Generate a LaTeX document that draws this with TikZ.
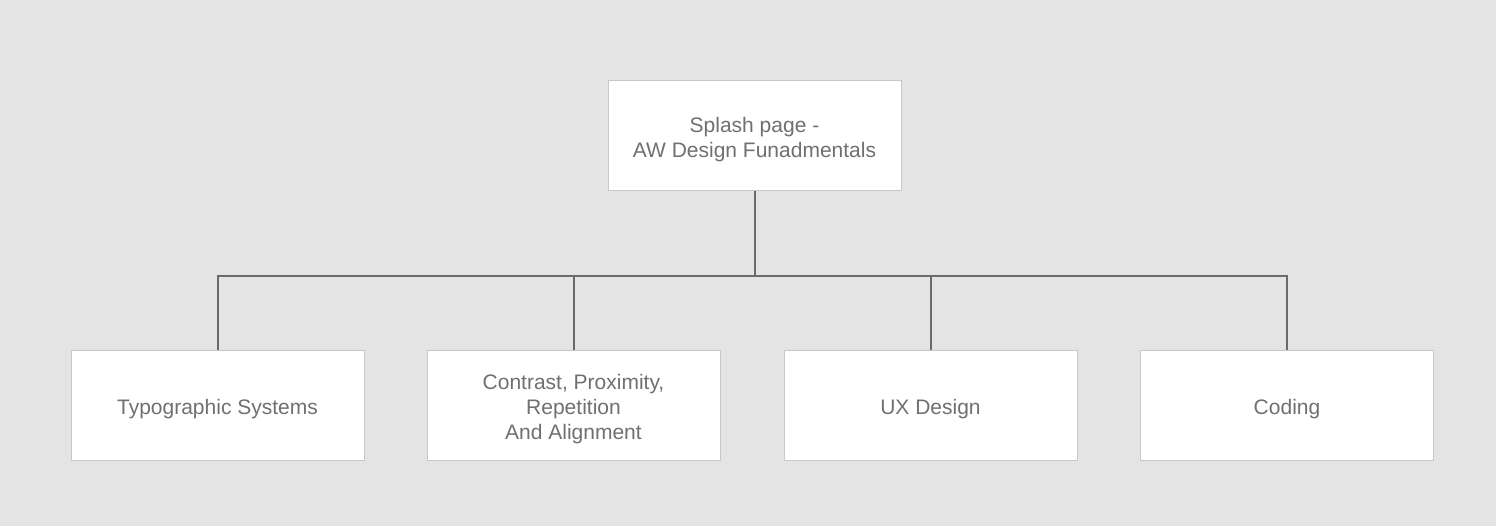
\documentclass[tikz,border=0pt]{standalone}
\usepackage{fontspec}
\setmainfont{Liberation Sans}
\definecolor{bg}{HTML}{E4E4E4}
\definecolor{boxline}{HTML}{C8C8C8}
\definecolor{txt}{HTML}{707070}
\definecolor{conn}{HTML}{6A6A6A}
\newcommand{\lowered}[1]{\raisebox{-9.25pt}[0pt][0pt]{\begin{tabular}{@{}c@{}}#1\end{tabular}}}
\begin{document}
\begin{tikzpicture}[x=1pt,y=-1pt,
  card/.style={draw=boxline,line width=1pt,fill=white,minimum width=293pt,minimum height=110pt,
    inner sep=0pt,align=center,text=txt,font=\fontsize{21}{25}\selectfont},
  link/.style={draw=conn,line width=2pt}]
\fill[bg] (0,0) rectangle (1496,526);
\useasboundingbox (0,0) rectangle (1496,526);
\renewcommand{\arraystretch}{1}
\node[card] (root) at (754.5,136) {\lowered{Splash page -\\AW Design Funadmentals}};
\node[card] (a) at (217.5,405.5) {\lowered{Typographic Systems}};
\node[card] (b) at (573.5,405.5) {\lowered{Contrast, Proximity,\\Repetition\\And Alignment}};
\node[card] (c) at (930.5,405.5) {\lowered{UX Design}};
\node[card] (d) at (1287,405.5) {\lowered{Coding}};
\coordinate (j) at (754.5,276);
\draw[link] (root.south) -- (j);
\draw[link,line join=miter] (a.north) |- (j) -| (d.north);
\draw[link] (b.north) -- (b.north |- j);
\draw[link] (c.north) -- (c.north |- j);
\end{tikzpicture}
\end{document}
